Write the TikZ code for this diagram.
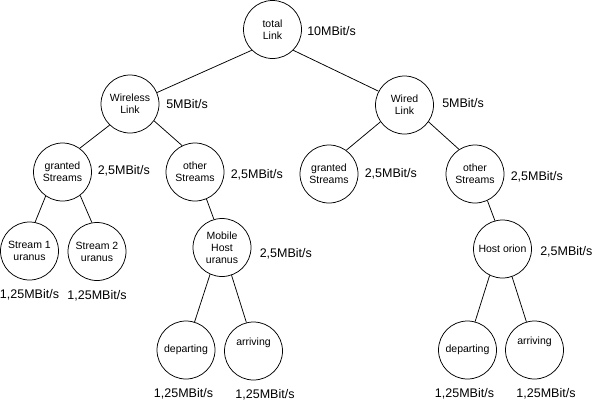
\documentclass[tikz,border=0pt]{standalone}
\usepackage{fontspec}
\setmainfont{Liberation Sans}
\usetikzlibrary{positioning}

\begin{document}
\begin{tikzpicture}
[-,x=1pt,y=-1pt,line width=0.75pt,%
  link/.style={shape=circle,draw,minimum size=58pt,inner sep=0pt,align=center,%
    font=\fontsize{10.5pt}{12pt}\selectfont},%
  raised/.style={text height=7.5pt,text depth=18pt},%
  rate/.style={inner sep=0pt,font=\fontsize{12.5pt}{14pt}\selectfont}]
\useasboundingbox (0,0) rectangle (592,400);
% share tree
\node[link] (total) at (272.5,29.5) {total\\Link};
\node[link] (wless) at (130,104) {Wireless\\Link};
\node[link] (wired) at (404.5,105) {Wired\\Link};
\node[link] (wlgrant) at (62.5,172) {granted\\Streams};
\node[link] (wlother) at (195,172) {other\\Streams};
\node[link] (wdgrant) at (329,174) {granted\\Streams};
\node[link] (wdother) at (475,174) {other\\Streams};
\node[link] (strA) at (29.5,251) {Stream 1\\uranus};
\node[link] (strB) at (97,251.5) {Stream 2\\uranus};
\node[link] (mobile) at (222,247.5) {Mobile\\Host\\uranus};
\node[link] (orion) at (502.5,249) {Host orion};
\node[link] (mdep) at (186,350) {departing};
\node[link,raised] (marr) at (253.5,351) {arriving};
\node[link] (odep) at (467.5,350) {departing};
\node[link,raised] (oarr) at (534.5,350) {arriving};
% rates
\node[rate,right=5pt of total,yshift=-1.5pt] (totalr) {10MBit/s};
\node[rate,right=6.5pt of wless] (wlessr) {5MBit/s};
\node[rate,right=8pt of wired,yshift=2pt] (wiredr) {5MBit/s};
\node[rate,right=5.5pt of wlgrant,yshift=1pt] (wlgrantr) {2,5MBit/s};
\node[rate,right=6pt of wlother,yshift=-2.5pt] (wlotherr) {2,5MBit/s};
\node[rate,right=6pt of wdgrant] (wdgrantr) {2,5MBit/s};
\node[rate,right=6pt of wdother,yshift=-3pt] (wdotherr) {2,5MBit/s};
\node[rate,right=8pt of mobile,yshift=-6pt] (mobiler) {2,5MBit/s};
\node[rate,right=8pt of orion,yshift=-3pt] (orionr) {2,5MBit/s};
\node[rate,below=9pt of strA] (strAr) {1,25MBit/s};
\node[rate,below=9pt of strB] (strBr) {1,25MBit/s};
\node[rate,below=9pt of mdep,xshift=-2.5pt] (mdepr) {1,25MBit/s};
\node[rate,below=9pt of marr,xshift=11.5pt] (marrr) {1,25MBit/s};
\node[rate,below=9pt of odep,xshift=-3pt] (odepr) {1,25MBit/s};
\node[rate,below=9pt of oarr,xshift=11.5pt] (oarrr) {1,25MBit/s};
% edges
\foreach \from/\to in {total.225/wless.23, total.315/wired.152,
    wless.226/wlgrant.54, wless.325/wlother.116,
    wired.215/wdgrant.54, wired.325/wdother.123,
    wlgrant.235/strA.79, wlgrant.307/strB.100,
    wlother.293/mobile.106, wdother.295/orion.105,
    mobile.246/mdep.73, mobile.289/marr.104,
    orion.244/odep.75, orion.289/oarr.106}
  \draw (\from) -- (\to);
\end{tikzpicture}
\end{document}
